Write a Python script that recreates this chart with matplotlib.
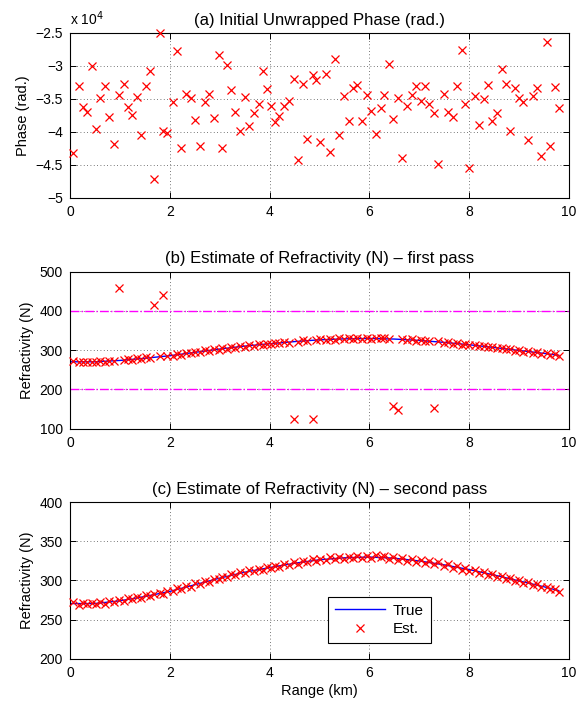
#!/usr/bin/env python
"""
Three-panel refractivity retrieval figure: raw unwrapped phase,
first-pass estimate with outliers, second-pass estimate.
"""
import matplotlib
matplotlib.use('Agg')
import matplotlib.pyplot as plt

plt.rcParams['font.family'] = ['Liberation Sans', 'DejaVu Sans']

# range samples (km)
range_km = [
    0.06, 0.18, 0.26, 0.35, 0.44, 0.52, 0.61, 0.71, 0.79, 0.89,
    0.99, 1.08, 1.16, 1.25, 1.34, 1.42, 1.52, 1.60, 1.69, 1.80,
    1.87, 1.95, 2.07, 2.15, 2.23, 2.33, 2.42, 2.51, 2.61, 2.70,
    2.79, 2.88, 2.98, 3.05, 3.15, 3.23, 3.31, 3.40, 3.50, 3.59,
    3.68, 3.78, 3.86, 3.95, 4.03, 4.12, 4.20, 4.30, 4.40, 4.49,
    4.57, 4.68, 4.76, 4.87, 4.94, 5.02, 5.13, 5.22, 5.32, 5.40,
    5.49, 5.59, 5.68, 5.76, 5.85, 5.95, 6.03, 6.13, 6.23, 6.30,
    6.40, 6.48, 6.57, 6.65, 6.76, 6.85, 6.94, 7.03, 7.11, 7.20,
    7.29, 7.37, 7.49, 7.58, 7.67, 7.75, 7.85, 7.92, 8.00, 8.11,
    8.20, 8.30, 8.39, 8.47, 8.57, 8.66, 8.74, 8.82, 8.92, 9.01,
    9.09, 9.18, 9.28, 9.36, 9.45, 9.56, 9.63, 9.73, 9.81,
]

# (a) initial unwrapped phase, rad
phase_rad = [
    -43200, -33100, -36200, -37000, -30000, -39500, -34800, -33100, -37800, -41800,
    -34400, -32700, -36200, -37500, -34700, -40400, -33100, -30800, -47100, -25000,
    -39900, -40200, -35500, -27800, -42400, -34200, -34900, -38200, -42200, -35500,
    -34300, -37900, -28400, -42500, -29800, -33700, -36900, -39900, -34700, -39100,
    -37100, -35700, -30800, -33500, -36100, -38500, -37600, -36000, -35300, -31900,
    -44200, -32800, -41100, -31400, -32100, -41500, -31200, -43000, -28900, -40400,
    -34600, -38400, -33300, -32900, -38400, -34400, -36800, -40300, -36400, -34400,
    -29700, -38100, -34900, -44000, -36100, -34400, -33000, -35300, -33000, -35800,
    -37200, -44800, -34300, -37000, -37800, -33000, -27600, -35700, -45500, -34500,
    -38900, -35000, -32900, -38300, -37100, -30500, -32700, -39900, -33300, -34900,
    -35500, -41200, -34500, -33400, -43700, -26400, -42200, -33200, -36300,
]

# true refractivity profile
true_km = [0.0, 0.5, 1.0, 1.5, 2.0, 2.5, 3.0, 3.5, 4.0, 4.5, 5.0,
           5.5, 6.0, 6.5, 7.0, 7.5, 8.0, 8.5, 9.0, 9.5, 9.8]
true_n = [270.5, 270.5, 274.0, 279.5, 286.0, 294.5, 303.0, 310.5, 316.5, 322.0, 326.5,
          329.0, 330.0, 328.5, 325.0, 320.0, 314.0, 307.0, 299.5, 292.0, 287.0]

# (c) second pass estimate
est_second = [
    272, 269, 271, 269.5, 271, 269.5, 272.5, 270.5, 273.5, 272,
    275.5, 274, 277.5, 276, 279, 278, 281.5, 280, 283, 284.5,
    283, 286.5, 286, 290, 289, 293.5, 292, 296.5, 295, 299.5,
    298, 302.5, 301.5, 305, 304, 308.5, 306.5, 310.5, 309, 313,
    311.5, 315, 313.5, 317, 316, 319, 317.5, 321.5, 319.5, 323.5,
    321.5, 325, 323, 327, 325, 328, 326, 329.5, 327, 330,
    328, 330.5, 328.5, 331, 328.5, 331, 329, 332, 330, 331.5,
    327.5, 330, 326.5, 329, 325.5, 327.5, 324, 326, 322.5, 324.5,
    321, 323, 318.5, 320.5, 316.5, 318.5, 314, 316.5, 312.5, 314,
    310, 311, 307, 308.5, 304.5, 306, 302, 303.5, 299, 300.5,
    296.5, 298, 294, 295.5, 291.5, 292, 288.5, 289.5, 285.5,
]

# (b) first pass: same samples, with these outliers
outlier_idx = [10, 18, 20, 49, 53, 71, 72, 80]
outlier_n = [458.5, 414, 441.5, 125.5, 125, 158.5, 148, 154]
est_first = list(est_second)
for i, v in zip(outlier_idx, outlier_n):
    est_first[i] = v

thresholds = [200, 400]

fig = plt.figure(figsize=(5.76, 7.02), dpi=100)
ax_a = fig.add_axes([0.1215, 0.718, 0.866, 0.235])
ax_b = fig.add_axes([0.1215, 0.3893, 0.866, 0.2236])
ax_c = fig.add_axes([0.1215, 0.0617, 0.866, 0.2228])

mk = dict(marker='x', color='red', linestyle='none', markersize=5.5,
          markeredgewidth=0.9, clip_on=False, zorder=3)


def style(ax):
    ax.set_xlim(0, 10)
    ax.set_xticks(range(0, 11, 2))
    ax.grid(True, linestyle=(0, (1, 3)), color='k', linewidth=0.6, alpha=0.7)
    ax.tick_params(direction='in', top=True, right=True, labelsize=10,
                   length=4, width=0.7, pad=5)
    for s in ax.spines.values():
        s.set_linewidth(0.8)
    ax.yaxis.set_major_formatter(plt.FuncFormatter(lambda v, p: f"{v:g}".replace('-', '\u2212')))
    ax.xaxis.set_major_formatter(plt.FuncFormatter(lambda v, p: f"{v:g}"))


# (a)
ax_a.plot(range_km, [p / 1e4 for p in phase_rad], **mk)
style(ax_a)
ax_a.set_ylim(-5, -2.5)
ax_a.set_yticks([-5, -4.5, -4, -3.5, -3, -2.5])
ax_a.set_title('(a) Initial Unwrapped Phase (rad.)', fontsize=12, pad=6)
ax_a.set_ylabel('Phase (rad.)', fontsize=10.5)
ax_a.text(0.0, 1.03, r'x 10$^4$', transform=ax_a.transAxes, fontsize=10,
          ha='left', va='bottom')

# (b)
ax_b.plot(true_km, true_n, color='blue', linewidth=1, zorder=2)
ax_b.plot(range_km, est_first, **mk)
for t in thresholds:
    ax_b.axhline(t, color='#ff00ff', linestyle='-.', linewidth=1, zorder=2)
style(ax_b)
ax_b.set_ylim(100, 500)
ax_b.set_yticks(range(100, 501, 100))
ax_b.set_title('(b) Estimate of Refractivity (N) \u2013 first pass', fontsize=12, pad=6)
ax_b.set_ylabel('Refractivity (N)', fontsize=10.5)

# (c)
ax_c.plot(true_km, true_n, color='blue', linewidth=1, zorder=2, label='True')
ax_c.plot(range_km, est_second, label='Est.', **mk)
style(ax_c)
ax_c.set_ylim(200, 400)
ax_c.set_yticks(range(200, 401, 50))
ax_c.set_title('(c) Estimate of Refractivity (N) \u2013 second pass', fontsize=12, pad=6)
ax_c.set_ylabel('Refractivity (N)', fontsize=10.5)
ax_c.set_xlabel('Range (km)', fontsize=10.5, labelpad=3)
leg = ax_c.legend(loc='lower left', bbox_to_anchor=(0.517, 0.1), fontsize=11,
                  fancybox=False, edgecolor='k', framealpha=1, handlelength=3.3,
                  borderpad=0.45, labelspacing=0.3, borderaxespad=0,
                  handletextpad=0.5)
leg.get_frame().set_linewidth(0.8)

fig.savefig('out.png', dpi=100)
